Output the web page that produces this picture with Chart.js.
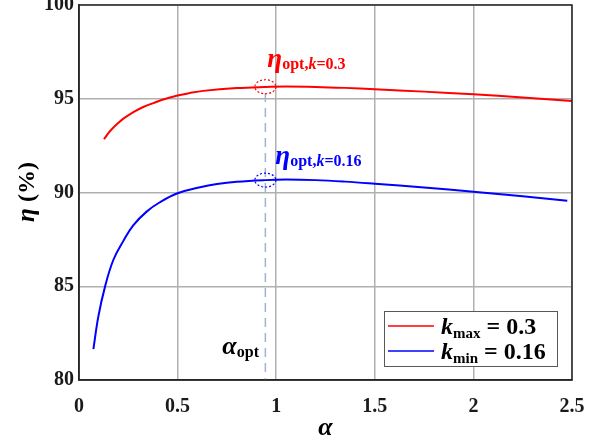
<!DOCTYPE html>
<html>
<head>
<meta charset="utf-8">
<script src="https://cdn.jsdelivr.net/npm/chart.js@4/dist/chart.umd.min.js"></script>
<style>
 html,body{margin:0;padding:0;background:#fff;}
 #wrap{width:616px;height:444px;}
</style>
</head>
<body>
<div id="wrap"><canvas id="c" width="616" height="444"></canvas></div>
<script>
// values
const alphaMax=[0.127,0.15,0.174,0.2,0.225,0.276,0.326,0.377,0.419,0.5,0.559,0.63,0.8,0.945,1.05,1.2,1.35,1.5,1.75,2.0,2.25,2.5];
const etaMax  =[92.84,93.18,93.46,93.72,93.94,94.29,94.56,94.77,94.93,95.17,95.3,95.42,95.57,95.63,95.65,95.63,95.58,95.51,95.38,95.24,95.07,94.88];
const alphaMin=[0.073,0.098,0.132,0.174,0.225,0.275,0.343,0.41,0.5,0.614,0.7,0.8,0.945,1.05,1.2,1.35,1.5,1.75,2.0,2.25,2.476];
const etaMin  =[81.65,83.38,84.98,86.4,87.42,88.25,88.98,89.48,89.96,90.28,90.45,90.57,90.66,90.69,90.66,90.58,90.47,90.27,90.04,89.8,89.56];
const alphaOpt=0.945;
const optLine=[95.31,80];           // dashed marker, eta range
const optMax=95.64, optMin=90.66;   // circled points
const seriesNames=[['k','max',' = 0.3'],['k','min',' = 0.16']];
const optLabels=[['η','opt,','k','=0.3'],['η','opt,','k','=0.16']];

const RED='#ff0000', BLUE='#0000ff', SERIF='"Liberation Serif","Times New Roman",serif';
const pts=(xs,ys)=>xs.map((x,i)=>({x,y:ys[i]}));

// draw a run of text pieces: [text, font, dy]
function rich(ctx,x,y,parts,color){
 ctx.fillStyle=color; ctx.textBaseline='alphabetic'; ctx.textAlign='left';
 for(const [txt,font,dy] of parts){
  ctx.font=font; ctx.fillText(txt,x,y+(dy||0)); x+=ctx.measureText(txt).width;
 }
}

const decor={
 id:'decor',
 afterDraw(chart){
  const {ctx,chartArea:a,scales:{x,y}}=chart;
  ctx.save();
  // frame
  ctx.strokeStyle='#262626'; ctx.lineWidth=1.5;
  ctx.strokeRect(a.left,a.top,a.right-a.left,a.bottom-a.top);

  // dotted ellipses round the optimum points
  const px=x.getPixelForValue(alphaOpt);
  [[optMax,RED],[optMin,BLUE]].forEach(([v,c])=>{
   ctx.beginPath(); ctx.setLineDash([2,2]); ctx.lineWidth=1.2; ctx.strokeStyle=c;
   ctx.ellipse(px,y.getPixelForValue(v),10.5,7,0,0,Math.PI*2); ctx.stroke();
  });
  ctx.setLineDash([]);

  // eta_opt labels
  const big='italic bold 27px '+SERIF, sb='bold 16px '+SERIF, si='italic bold 16px '+SERIF;
  const l1=optLabels[0], l2=optLabels[1];
  rich(ctx,px+2,y.getPixelForValue(optMax)-20,[[l1[0],big,0],[l1[1],sb,2],[l1[2],si,2],[l1[3],sb,2]],RED);
  rich(ctx,px+10,y.getPixelForValue(optMin)-16,[[l2[0],big,0],[l2[1],sb,2],[l2[2],si,2],[l2[3],sb,2]],BLUE);

  // alpha_opt
  rich(ctx,px-43,y.getPixelForValue(81.3)-2,[['α','italic bold 26px '+SERIF,0],['opt','bold 16px '+SERIF,3]],'#000');

  // y axis title
  ctx.save();
  ctx.translate(34,192); ctx.rotate(-Math.PI/2);
  ctx.font='italic bold 25px '+SERIF; const w1=ctx.measureText('η ').width;
  ctx.font='bold 24px '+SERIF; const w2=ctx.measureText('(%)').width;
  rich(ctx,-(w1+w2)/2,0,[['η ','italic bold 25px '+SERIF,0],['(%)','bold 24px '+SERIF,0]],'#000');
  ctx.restore();

  // legend
  const lx=384, ly=311, lw=173, lh=55;
  ctx.fillStyle='#fff'; ctx.fillRect(lx,ly,lw,lh);
  ctx.strokeStyle='#595959'; ctx.lineWidth=1; ctx.strokeRect(lx+.5,ly+.5,lw,lh);
  chart.data.datasets.slice(0,2).forEach((ds,i)=>{
   const yy=ly+15+i*25;
   ctx.beginPath(); ctx.strokeStyle=ds.borderColor; ctx.lineWidth=1.5;
   ctx.moveTo(lx+4,yy); ctx.lineTo(lx+50,yy); ctx.stroke();
   const n=seriesNames[i];
   rich(ctx,lx+57,yy+8,[[n[0],'italic bold 24px '+SERIF,0],[n[1],'bold 15px '+SERIF,4],[n[2],'bold 24px '+SERIF,0]],'#000');
  });
  ctx.restore();
 }
};

new Chart(document.getElementById('c'),{
 type:'scatter',
 data:{datasets:[
  {label:'kmax = 0.3',data:pts(alphaMax,etaMax),showLine:true,borderColor:RED,borderWidth:2,pointRadius:0,tension:0.4},
  {label:'kmin = 0.16',data:pts(alphaMin,etaMin),showLine:true,borderColor:BLUE,borderWidth:2,pointRadius:0,tension:0.4},
  {label:'opt',data:pts([alphaOpt,alphaOpt],optLine),showLine:true,borderColor:'#9fb3da',borderWidth:1.5,borderDash:[9,6],pointRadius:0}
 ]},
 options:{
  responsive:false,animation:false,
  layout:{padding:{top:5,right:44,left:0,bottom:0}},
  plugins:{legend:{display:false},tooltip:{enabled:false}},
  scales:{
   x:{type:'linear',min:0,max:2.5,
    afterFit:s=>{s.height=64;s.paddingLeft=0;s.paddingRight=0;},
    grid:{color:'#b0b0b0',lineWidth:1.5,drawTicks:false},
    border:{color:'#262626',width:1.5},
    ticks:{stepSize:0.5,padding:15,color:'#1a1a1a',font:{family:SERIF,size:20,weight:'bold'},maxRotation:0,callback:v=>String(v)},
    title:{display:true,text:'α',color:'#000',font:{family:SERIF,size:26,weight:'bold',style:'italic'},padding:{top:0,bottom:0}}
   },
   y:{min:80,max:100,
    afterFit:s=>{s.width=79;s.paddingTop=0;s.paddingBottom=0;},
    grid:{color:'#b0b0b0',lineWidth:1.5,drawTicks:false},
    border:{color:'#262626',width:1.5},
    ticks:{stepSize:5,padding:5,color:'#1a1a1a',font:{family:SERIF,size:20,weight:'bold'}}
   }
  }
 },
 plugins:[decor]
});
</script>
</body>
</html>
